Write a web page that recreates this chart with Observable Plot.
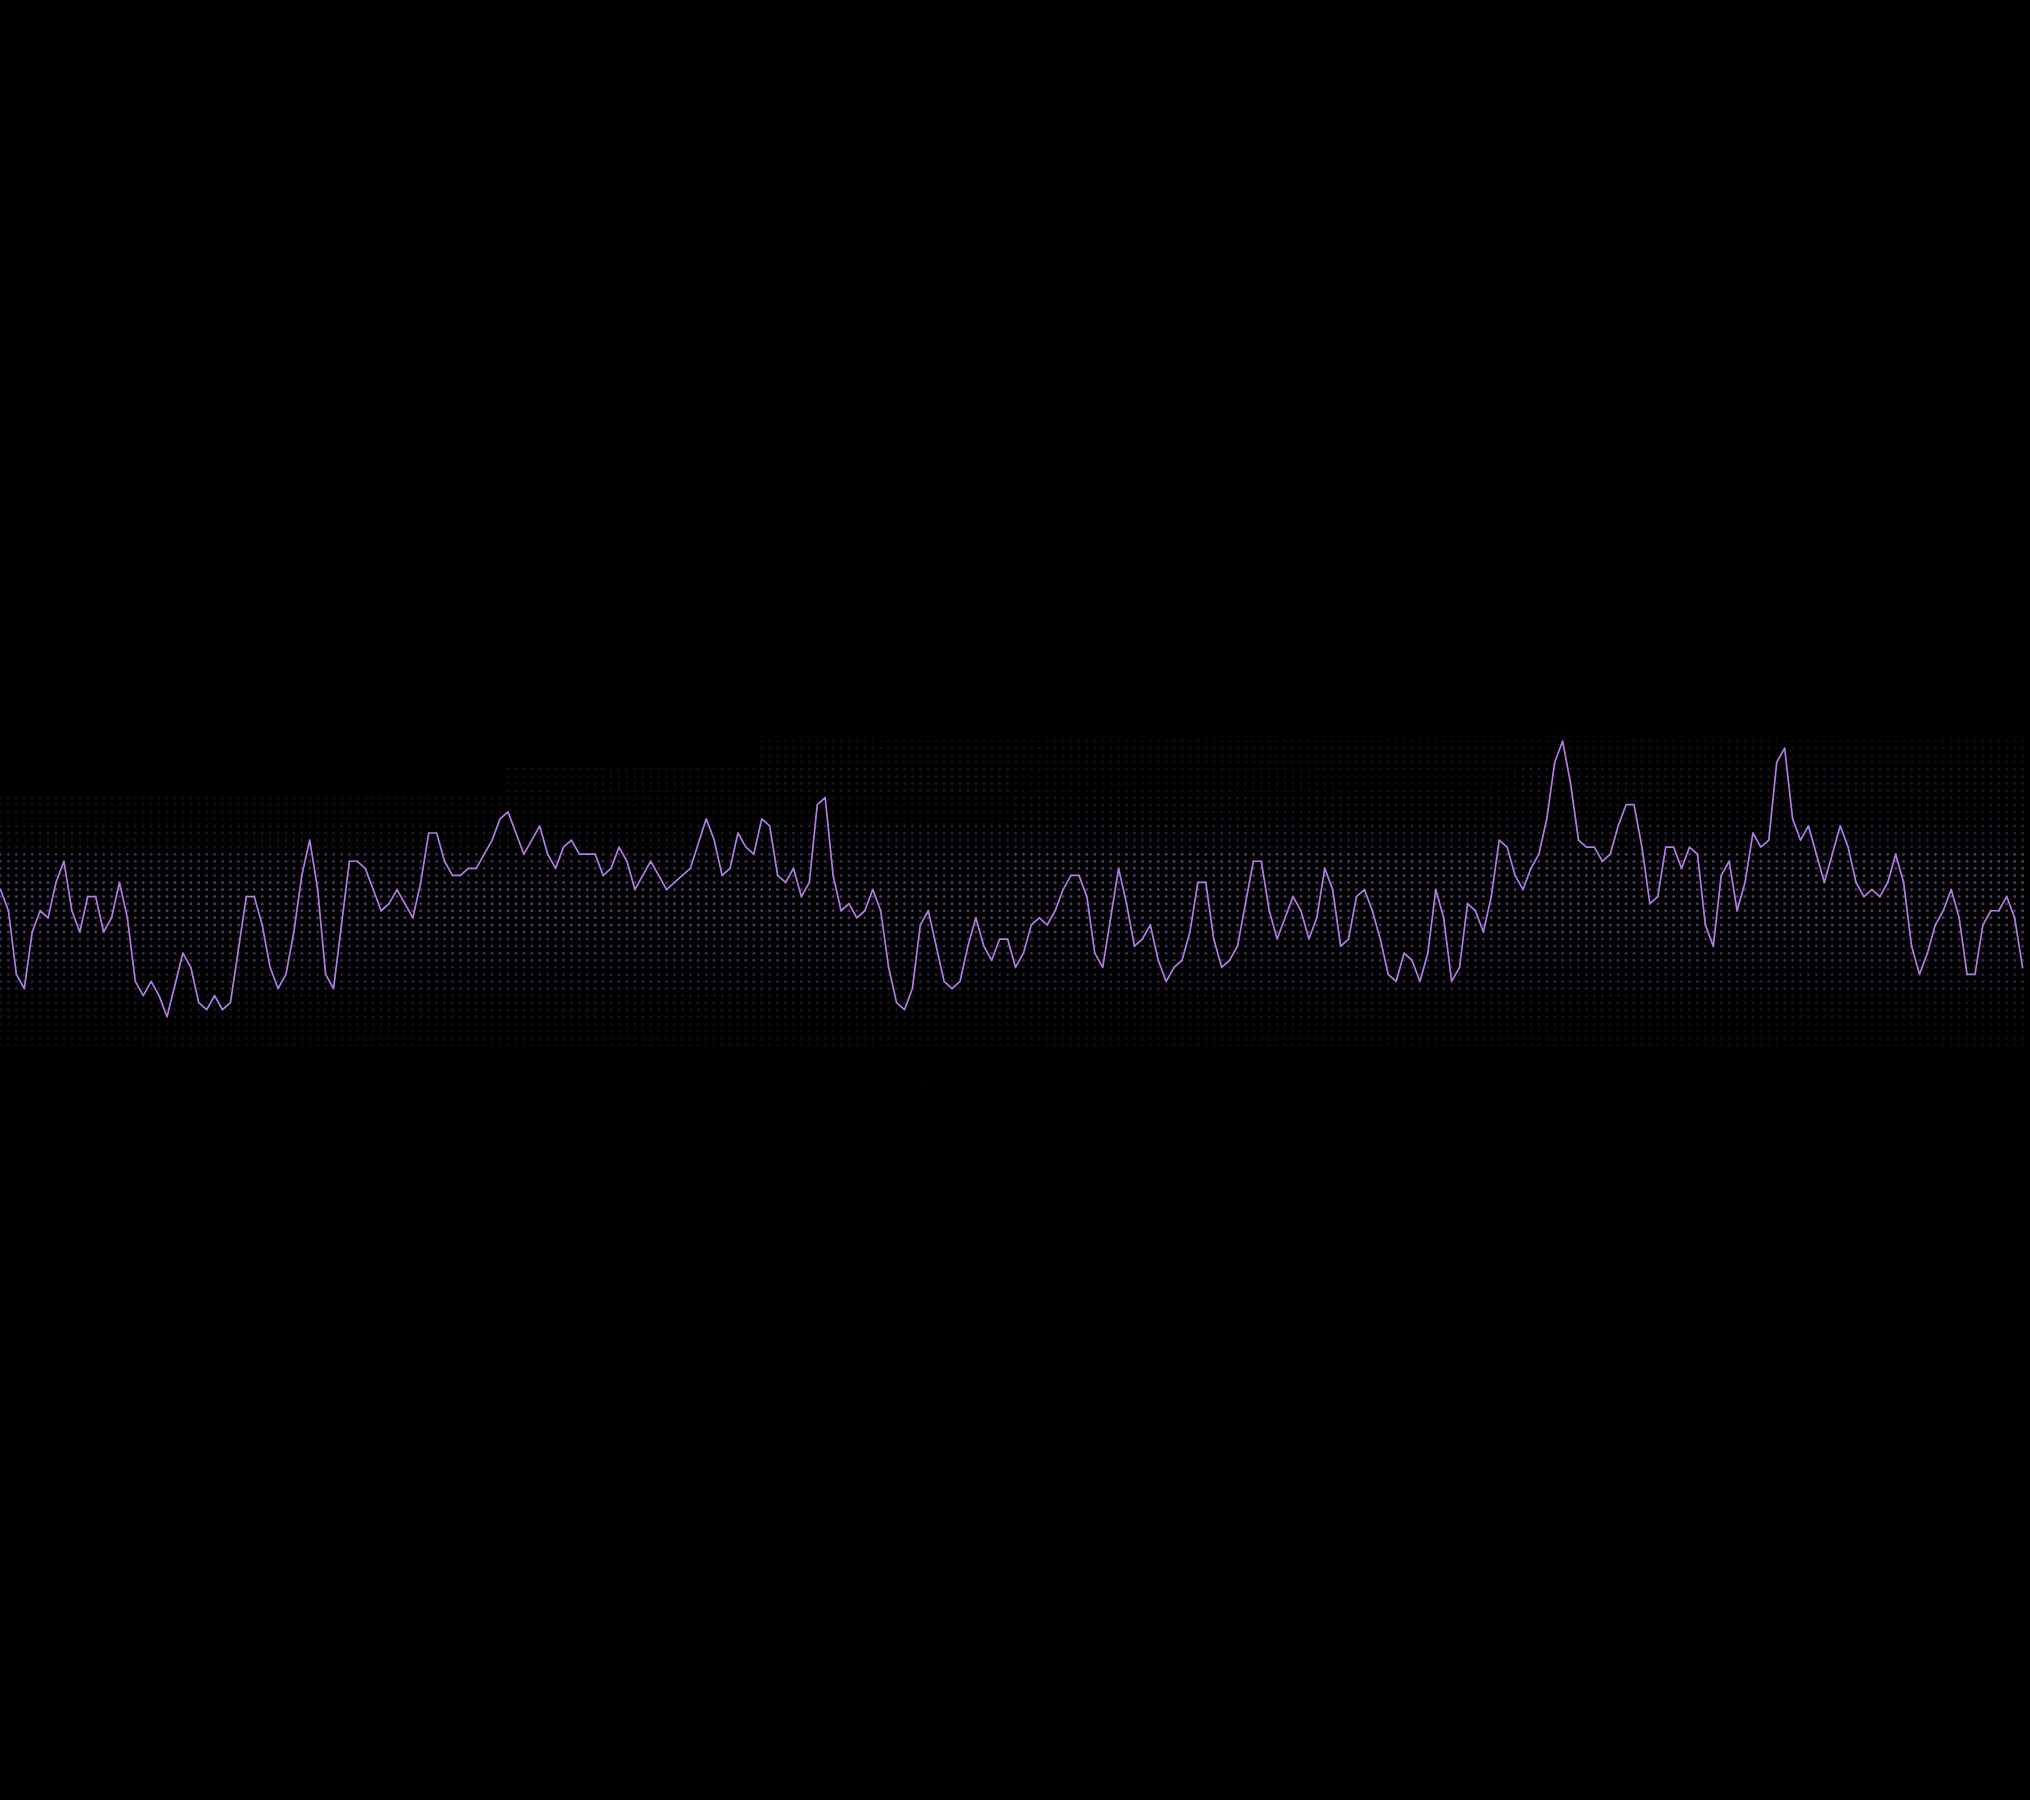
<!DOCTYPE html>
<html>
<head>
<meta charset="utf-8">
<script src="https://cdn.jsdelivr.net/npm/d3@7"></script>
<script src="https://cdn.jsdelivr.net/npm/@observablehq/plot@0.6"></script>
<style>
  html, body { margin: 0; padding: 0; background: #000; }
  #chart svg { display: block; }
</style>
</head>
<body>
<div id="chart"></div>
<script>
// Highlighted series: one value per column (256 columns)
const lineValues = [
  14, 11, 2, 0, 8, 11, 10, 15, 18, 11, 8, 13, 13, 8, 10, 15, 10, 1, -1, 1,
  -1, -4, 0.5, 5, 3, -2, -3, -1, -3, -2, 5.5, 13, 13, 9, 3, 0, 2, 8, 16, 21,
  14, 2, 0, 9, 18, 18, 17, 14, 11, 12, 14, 12, 10, 15, 22, 22, 18, 16, 16, 17,
  17, 19, 21, 24, 25, 22, 19, 21, 23, 19, 17, 20, 21, 19, 19, 19, 16, 17, 20, 18,
  14, 16, 18, 16, 14, 15, 16, 17, 20.5, 24, 21, 16, 17, 22, 20, 19, 24, 23, 16, 15,
  17, 13, 15, 26, 27, 16, 11, 12, 10, 11, 14, 11, 3, -2, -3, 0, 9, 11, 6, 1,
  0, 1, 6, 10, 6, 4, 7, 7, 3, 5, 9, 10, 9, 11, 14, 16, 16, 13, 5, 3,
  10, 17, 12, 6, 7, 9, 4, 1, 3, 4, 8, 15, 15, 7, 3, 4, 6, 12, 18, 18,
  11, 7, 10, 13, 11, 7, 10, 17, 14, 6, 7, 13, 14, 11, 7, 2, 1, 5, 4, 1,
  5, 14, 10, 1, 3, 12, 11, 8, 13, 21, 20, 16, 14, 17, 19, 24, 32, 35, 29, 21,
  20, 20, 18, 19, 23, 26, 26, 20, 12, 13, 20, 20, 17, 20, 19, 9, 6, 16, 18, 11,
  15, 22, 20, 21, 32, 34, 24, 21, 23, 19, 15, 19, 23, 20, 15, 13, 14, 13, 15, 19,
  15, 6, 2, 5, 9, 11, 14, 10, 2, 2, 9, 11, 11, 13, 10, 3
];

// Background cloud: density level (0-9) per block of 32 columns,
// per 4-unit value band; band lower bounds listed top to bottom
const bandLows = [52, 48, 44, 40, 36, 32, 28, 24, 20, 16, 12, 8, 4, 0, -4, -8, -12, -16, -20, -24, -28, -32, -36, -40, -44, -48];
const blockDensity = [
  "00001112356654321111110000",
  "00001112356654321111110000",
  "00001122356654321111111110",
  "00011232456654321111111110",
  "00111223466654321111111100",
  "01111223466654321111111100",
  "01111233466654321111111000",
  "01111233466654321111111000"
];

const lineData = lineValues.map((v, i) => ({i, v}));

const cells = [];
for (let i = 0; i < lineValues.length; i++) {
  const dens = blockDensity[Math.min(blockDensity.length - 1, Math.floor(i / 32))];
  for (let b = 0; b < bandLows.length; b++) {
    const k = +dens[b];
    if (!k) continue;
    const o = Math.pow(k / 9, 1.6) * 0.85;
    for (let v = bandLows[b]; v < bandLows[b] + 4; v++) cells.push({i, v, o});
  }
}

const color = "#b07ee0";

const chart = Plot.plot({
  width: 2030,
  height: 1800,
  margin: 0,
  style: {background: "#000"},
  x: {domain: [0, 256], axis: null},
  y: {domain: [-114.85, 139.75], axis: null},
  opacity: {domain: [0, 1], range: [0, 1]},
  marks: [
    Plot.dot(cells, {x: "i", y: "v", r: 1.5, fill: color, fillOpacity: "o", stroke: "none"}),
    Plot.line(lineData, {x: "i", y: "v", stroke: color, strokeWidth: 1.7})
  ]
});
document.getElementById("chart").appendChild(chart);
</script>
</body>
</html>
